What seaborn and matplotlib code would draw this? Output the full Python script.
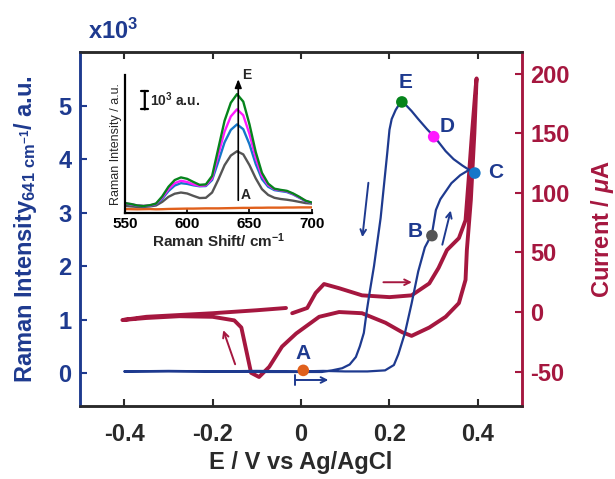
import numpy as np
import pandas as pd
import matplotlib
matplotlib.use("Agg")
import matplotlib.pyplot as plt
import seaborn as sns

# potential-resolved Raman intensity at 641 cm-1 (x10^3 a.u.), one CV loop
E_raman = [0.0, 0.05, 0.1, 0.15, 0.19, 0.21, 0.22, 0.235, 0.25, 0.265, 0.28, 0.296,
           0.305, 0.315, 0.34, 0.36, 0.372, 0.38, 0.388, 0.393,
           0.38, 0.365, 0.345, 0.327, 0.31, 0.30, 0.285, 0.265, 0.25, 0.235, 0.228,
           0.22, 0.214, 0.205, 0.2, 0.195, 0.18, 0.165, 0.155, 0.149, 0.142, 0.133,
           0.124, 0.11, 0.093, 0.07, 0.047, 0.0, -0.1, -0.2, -0.3, -0.4,
           -0.3, -0.2, -0.1, 0.0]
I_raman = [0.03, 0.04, 0.03, 0.03, 0.05, 0.15, 0.35, 0.75, 1.3, 1.9, 2.35, 2.6,
           3.05, 3.25, 3.55, 3.7, 3.76, 3.8, 3.77, 3.75,
           3.8, 3.88, 4.0, 4.15, 4.33, 4.43, 4.56, 4.75, 4.9, 5.03, 5.07,
           5.0, 4.92, 4.75, 4.55, 4.12, 2.9, 2.0, 1.5, 1.18, 0.75, 0.5,
           0.3, 0.16, 0.09, 0.05, 0.02, 0.02, 0.02, 0.03, 0.03, 0.03,
           0.04, 0.03, 0.04, 0.03]

# cyclic voltammogram (uA)
E_cv = [-0.034, -0.1, -0.2, -0.3, -0.35, -0.404,
        -0.35, -0.275, -0.2, -0.151, -0.135, -0.124, -0.113, -0.095, -0.072,
        -0.043, -0.011, 0.041, 0.086, 0.138, 0.191, 0.229, 0.25, 0.29, 0.327,
        0.357, 0.372, 0.375, 0.384, 0.392, 0.397,
        0.395, 0.386, 0.379, 0.372, 0.357, 0.33, 0.311, 0.29, 0.25, 0.2, 0.138,
        0.086, 0.052, 0.033, 0.014, -0.02]
I_cv = [3.4, 1.5, -1.0, -3.0, -4.0, -6.7,
        -5.0, -3.5, -4.0, -7.0, -13.0, -32.0, -51.0, -54.5, -46.0,
        -29.0, -18.0, -4.0, 0.0, -1.0, -9.0, -17.0, -20.0, -13.0, -4.0,
        7.5, 27.0, 52.0, 94.0, 150.0, 196.0,
        189.0, 147.0, 111.0, 77.0, 62.0, 52.0, 37.0, 24.0, 14.0, 12.5, 14.0,
        20.0, 23.5, 16.0, 3.4, -1.0]

# marked points A-E
pt_labels = ["A", "B", "C", "D", "E"]
pt_E = [0.005, 0.296, 0.393, 0.30, 0.228]
pt_I = [0.05, 2.57, 3.74, 4.42, 5.07]
pt_colors = ["#e0601c", "#555555", "#1577c9", "#ff19ff", "#06841c"]

# inset spectra (a.u.)
shift = list(range(550, 705, 5))
spec_A = [170, 165, 160, 165, 170, 160, 165, 175, 180, 185, 190, 190, 195, 200, 200, 200,
          205, 210, 215, 220, 220, 225, 225, 230, 230, 230, 235, 235, 240, 240, 240]
spec_B = [300, 280, 260, 260, 280, 320, 470, 680, 810, 860, 820, 720, 630, 640, 860, 1400,
          2000, 2400, 2580, 2450, 2000, 1450, 1000, 760, 640, 590, 560, 520, 470, 420, 400]
spec_C = [400, 360, 310, 290, 310, 370, 600, 920, 1150, 1250, 1220, 1160, 1120, 1130, 1380, 2150,
          2950, 3470, 3700, 3500, 2870, 2050, 1420, 1100, 960, 920, 880, 780, 640, 500, 420]
spec_D = [420, 370, 320, 300, 320, 390, 650, 1000, 1250, 1350, 1300, 1200, 1140, 1160, 1450, 2450,
          3400, 4030, 4330, 4080, 3300, 2300, 1550, 1170, 1000, 950, 910, 800, 660, 510, 430]
spec_E = [420, 380, 320, 300, 330, 400, 700, 1100, 1380, 1490, 1430, 1300, 1180, 1200, 1550, 2700,
          3850, 4600, 4960, 4650, 3700, 2550, 1680, 1230, 1020, 970, 930, 820, 680, 520, 440]

blue = "#1e3a8f"
red = "#a5173f"
dark = "#2a2a2a"

sns.set_style("ticks")
plt.rcParams['font.family'] = ['Liberation Sans', 'DejaVu Sans']
plt.rcParams['font.weight'] = 'bold'
plt.rcParams['axes.unicode_minus'] = False
plt.rcParams['mathtext.fontset'] = 'custom'
plt.rcParams['mathtext.rm'] = 'Liberation Sans:bold'
plt.rcParams['mathtext.bf'] = 'Liberation Sans:bold'
plt.rcParams['mathtext.it'] = 'Liberation Sans:italic:bold'

fig = plt.figure(figsize=(6.15, 4.79), dpi=100)
ax = fig.add_axes([0.130, 0.152, 0.719, 0.739])
ax2 = ax.twinx()

# current on the right axis
cv = pd.DataFrame({"E": E_cv, "I": I_cv})
sns.lineplot(data=cv, x="E", y="I", sort=False, estimator=None, ax=ax2,
             color=red, lw=2.8)

# Raman intensity on the left axis, drawn above the current
ram = pd.DataFrame({"E": E_raman, "I": I_raman})
sns.lineplot(data=ram, x="E", y="I", sort=False, estimator=None, ax=ax,
             color=blue, lw=1.6)
pts = pd.DataFrame({"E": pt_E, "I": pt_I, "lab": pt_labels})
sns.scatterplot(data=pts, x="E", y="I", hue="lab", palette=pt_colors, s=70,
                edgecolor="none", legend=False, ax=ax, zorder=5)
ax.set_zorder(ax2.get_zorder() + 1)
ax.patch.set_visible(False)

lab_pos = {"A": (0.005, 0.36), "B": (0.259, 2.65), "C": (0.44, 3.75),
           "D": (0.33, 4.62), "E": (0.237, 5.43)}
for k, (x, y) in lab_pos.items():
    ax.text(x, y, k, color=blue, fontsize=15, fontweight="bold",
            ha="center", va="center")

# scan direction arrows
ax.annotate("", xy=(0.138, 2.49), xytext=(0.153, 3.61),
            arrowprops=dict(arrowstyle="->", color=blue, lw=1.4))
ax.annotate("", xy=(0.34, 3.09), xytext=(0.318, 2.35),
            arrowprops=dict(arrowstyle="->", color=blue, lw=1.4))
ax.annotate("", xy=(0.068, -0.13), xytext=(-0.02, -0.13),
            arrowprops=dict(arrowstyle="]->,widthA=0.35,lengthA=0", color=blue, lw=1.4))
ax2.annotate("", xy=(0.257, 25), xytext=(0.18, 25),
             arrowprops=dict(arrowstyle="->", color=red, lw=1.4))
ax2.annotate("", xy=(-0.178, -13), xytext=(-0.147, -46),
             arrowprops=dict(arrowstyle="->", color=red, lw=1.4))

ax.set_xlim(-0.5, 0.5)
ax.set_ylim(-0.62, 6.0)
ax2.set_ylim(-79, 218)
ax.set_xticks([-0.4, -0.2, 0, 0.2, 0.4])
ax.set_xticklabels(["-0.4", "-0.2", "0", "0.2", "0.4"])
ax.set_yticks([0, 1, 2, 3, 4, 5])
ax2.set_yticks([-50, 0, 50, 100, 150, 200])

ax.tick_params(axis="x", direction="in", top=True, length=5, width=1.5,
               labelsize=17, colors=dark, pad=12)
ax.tick_params(axis="y", direction="in", length=5, width=1.5, labelsize=17,
               colors=blue, pad=6)
ax2.tick_params(axis="y", direction="in", length=5, width=1.5, labelsize=17,
                colors=red, pad=6)
for a in (ax, ax2):
    for s in a.spines.values():
        s.set_linewidth(1.8)
        s.set_color(dark)
        s.set_visible(True)
ax.spines["left"].set_color(blue)
ax2.spines["left"].set_color(blue)
ax2.spines["right"].set_color(red)
ax.spines["right"].set_color(red)

ax.set_xlabel("E / V vs Ag/AgCl", fontsize=17, fontweight="bold", color=dark, labelpad=4)
ax.set_ylabel(r"Raman Intensity$_{\mathbf{641\ cm^{-1}}}$/ a.u.", fontsize=17,
              fontweight="bold", color=blue, labelpad=14)
ax2.set_ylabel(r"Current / $\mu$A", fontsize=17, fontweight="bold", color=red,
               labelpad=14)
fig.text(0.143, 0.935, r"x10$^{3}$", fontsize=17, fontweight="bold", color=blue,
         ha="left", va="center")

# inset with spectra
ins = fig.add_axes([0.203, 0.555, 0.304, 0.288])
spec_list = [spec_A, spec_B, spec_C, spec_D, spec_E]
for sp, c in zip(spec_list, pt_colors):
    sns.lineplot(x=shift, y=sp, ax=ins, color=c, lw=1.7)
ins.set_xlim(550, 700)
ins.set_ylim(0, 5750)
ins.set_xticks([550, 600, 650, 700])
ins.set_yticks([])
ins.tick_params(axis="x", direction="in", length=3, width=1.2, labelsize=11,
                colors="black", pad=3)
for s in ["top", "right"]:
    ins.spines[s].set_visible(False)
for s in ["left", "bottom"]:
    ins.spines[s].set_linewidth(1.6)
    ins.spines[s].set_color("black")
ins.patch.set_visible(False)
ins.set_xlabel(r"Raman Shift/ cm$^{-1}$", fontsize=11, fontweight="bold", labelpad=0)
ins.set_ylabel("Raman Intensity / a.u.", fontsize=9, fontweight="normal", labelpad=2)
ins.annotate("", xy=(641, 5700), xytext=(641, 420),
             arrowprops=dict(arrowstyle="-|>,head_width=0.2,head_length=0.5",
                             color="black", lw=1.2))
ins.text(648, 5750, "E", fontsize=10, fontweight="bold", ha="center", va="center")
ins.text(647, 750, "A", fontsize=10, fontweight="bold", ha="center", va="center")
ins.annotate("", xy=(566, 5210), xytext=(566, 4210),
             arrowprops=dict(arrowstyle="|-|,widthA=0.25,widthB=0.25",
                             color="black", lw=1.6))
ins.text(570, 4710, r"10$^{3}$ a.u.", fontsize=10, fontweight="bold",
         ha="left", va="center")

fig.savefig("out.png", dpi=100)
